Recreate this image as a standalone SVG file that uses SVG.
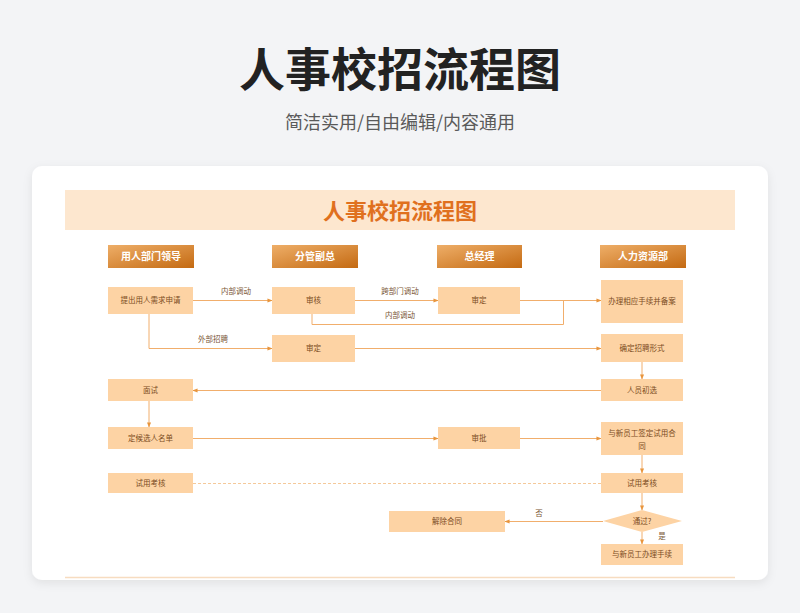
<svg xmlns="http://www.w3.org/2000/svg" width="800" height="613" viewBox="0 0 800 613">
<defs>
<linearGradient id="hg" x1="0" y1="0" x2="1" y2="1">
<stop offset="0" stop-color="#eeae68"/>
<stop offset="1" stop-color="#c46a12"/>
</linearGradient>
<filter id="sh" x="-10%" y="-10%" width="120%" height="125%">
<feDropShadow dx="0" dy="3" stdDeviation="5" flood-color="#000" flood-opacity="0.08"/>
</filter>
<marker id="ar" viewBox="0 0 6 6" refX="5.5" refY="3" markerWidth="5" markerHeight="5" orient="auto" markerUnits="userSpaceOnUse">
<path d="M0,0.5 L6,3 L0,5.5 Z" fill="#e8953d"/>
</marker>
<style>
.hd rect{fill:url(#hg)}
.hd text{fill:#fff;font:bold 10px "Noto Sans CJK SC","Noto Sans",sans-serif;text-anchor:middle}
.nd rect,.nd polygon{fill:#fdd3a4}
.nd text{fill:#7b4b22;font:7.5px "Noto Sans CJK SC","Noto Sans",sans-serif;text-anchor:middle}
.cn path{fill:none;stroke:#f1ae6c;stroke-width:1}
.cn .d{stroke:#f5c99a;stroke-dasharray:3 2}
.lb{fill:#7a5636;font:7.5px "Noto Sans CJK SC","Noto Sans",sans-serif;text-anchor:middle}
</style>
</defs>
<rect width="800" height="613" fill="#f3f4f6"/>
<text x="400" y="86" text-anchor="middle" font-family="'Noto Sans CJK SC','Noto Sans',sans-serif" font-weight="bold" font-size="46" fill="#222">人事校招流程图</text>
<text x="400" y="129" text-anchor="middle" font-family="'Noto Sans CJK SC','Noto Sans',sans-serif" font-size="18" fill="#5a5a5a">简洁实用/自由编辑/内容通用</text>
<rect x="32" y="166" width="736" height="414" rx="10" fill="#fff" filter="url(#sh)"/>
<rect x="65" y="190" width="670" height="40" fill="#fde7cf"/>
<text x="400" y="219" text-anchor="middle" font-family="'Noto Sans CJK SC','Noto Sans',sans-serif" font-weight="bold" font-size="22" fill="#e0701e">人事校招流程图</text>
<line x1="65" y1="577.5" x2="735" y2="577.5" stroke="#f7dcc0" stroke-width="1.5"/>

<g id="h1" class="hd"><rect x="108" y="245" width="86" height="23"/><text x="151" y="260">用人部门领导</text></g>
<g id="h2" class="hd"><rect x="272" y="245" width="86" height="23"/><text x="315" y="260">分管副总</text></g>
<g id="h3" class="hd"><rect x="437" y="245" width="85" height="23"/><text x="479.5" y="260">总经理</text></g>
<g id="h4" class="hd"><rect x="600" y="245" width="86" height="23"/><text x="643" y="260">人力资源部</text></g>

<g id="connectors" class="cn">
<path d="M193,300.5 H272" marker-end="url(#ar)"/>
<path d="M355,300.5 H438" marker-end="url(#ar)"/>
<path d="M312,314 V324.5 H563.5 V300.5"/>
<path d="M520,300.5 H601" marker-end="url(#ar)"/>
<path d="M149,314 V348.5 H272" marker-end="url(#ar)"/>
<path d="M355,348.5 H601" marker-end="url(#ar)"/>
<path d="M642,362 V379" marker-end="url(#ar)"/>
<path d="M601,390.5 H193" marker-end="url(#ar)"/>
<path d="M149,401 V427" marker-end="url(#ar)"/>
<path d="M193,438.5 H438" marker-end="url(#ar)"/>
<path d="M520,438.5 H601" marker-end="url(#ar)"/>
<path d="M642,455 V473" marker-end="url(#ar)"/>
<path class="d" d="M193,483.5 H601"/>
<path d="M642,493 V510" marker-end="url(#ar)"/>
<path d="M603,521.5 H505" marker-end="url(#ar)"/>
<path d="M642,532 V544" marker-end="url(#ar)"/>
<text class="lb" x="236" y="294">内部调动</text>
<text class="lb" x="400" y="294">跨部门调动</text>
<text class="lb" x="400" y="318">内部调动</text>
<text class="lb" x="213" y="342">外部招聘</text>
<text class="lb" x="539" y="516">否</text>
<text class="lb" x="662" y="539">是</text>
</g>

<g id="n1" class="nd"><rect x="108" y="287" width="85" height="27"/><text x="150.5" y="303">提出用人需求申请</text></g>
<g id="n2" class="nd"><rect x="272" y="287" width="83" height="27"/><text x="313.5" y="303">审核</text></g>
<g id="n3" class="nd"><rect x="438" y="287" width="82" height="27"/><text x="479" y="303">审定</text></g>
<g id="n4" class="nd"><rect x="601" y="280" width="82" height="43"/><text x="642" y="304">办理相应手续并备案</text></g>
<g id="n5" class="nd"><rect x="272" y="335" width="83" height="27"/><text x="313.5" y="351">审定</text></g>
<g id="n6" class="nd"><rect x="601" y="334" width="82" height="28"/><text x="642" y="351">确定招聘形式</text></g>
<g id="n7" class="nd"><rect x="108" y="379" width="85" height="22"/><text x="150.5" y="393">面试</text></g>
<g id="n8" class="nd"><rect x="601" y="379" width="82" height="22"/><text x="642" y="393">人员初选</text></g>
<g id="n9" class="nd"><rect x="108" y="427" width="85" height="22"/><text x="150.5" y="441">定候选人名单</text></g>
<g id="n10" class="nd"><rect x="438" y="427" width="82" height="22"/><text x="479" y="441">审批</text></g>
<g id="n11" class="nd"><rect x="601" y="422" width="82" height="33"/><text x="642" y="436">与新员工签定试用合</text><text x="642" y="449">同</text></g>
<g id="n12" class="nd"><rect x="108" y="473" width="85" height="20"/><text x="150.5" y="486">试用考核</text></g>
<g id="n13" class="nd"><rect x="601" y="473" width="82" height="20"/><text x="642" y="486">试用考核</text></g>
<g id="n14" class="nd"><polygon points="642,510 682,521 642,532 603,521"/><text x="642" y="524">通过?</text></g>
<g id="n15" class="nd"><rect x="389" y="511" width="116" height="21"/><text x="447" y="524">解除合同</text></g>
<g id="n16" class="nd"><rect x="601" y="544" width="82" height="21"/><text x="642" y="557">与新员工办理手续</text></g>
</svg>
